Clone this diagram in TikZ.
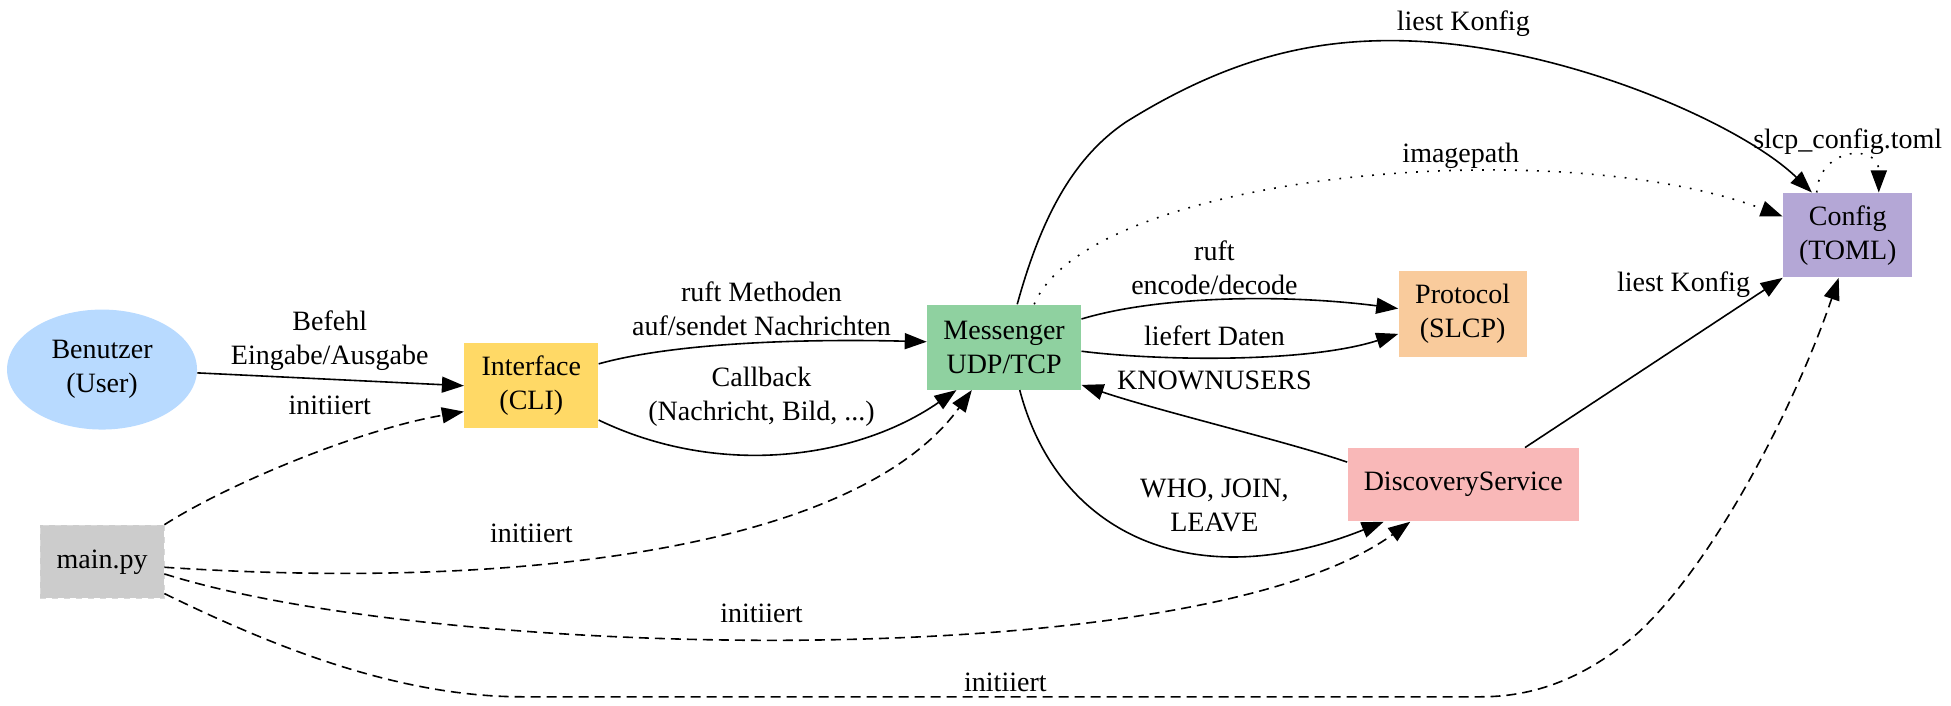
\documentclass[tikz,border=0pt]{standalone}
\usepackage{fontspec}
\setmainfont{Liberation Serif}
\usepackage{xcolor}
\usetikzlibrary{arrows.meta,shapes.geometric,positioning}

\definecolor{userblue}{RGB}{184,218,255}
\definecolor{cliyellow}{RGB}{255,217,102}
\definecolor{msggreen}{RGB}{143,209,160}
\definecolor{protoorange}{RGB}{249,203,156}
\definecolor{discpink}{RGB}{249,184,184}
\definecolor{cfgpurple}{RGB}{180,167,214}
\definecolor{maingray}{RGB}{204,204,204}

\begin{document}
\begin{tikzpicture}[x=0.6222pt, y=-0.6222pt,
  font=\fontsize{14}{17}\selectfont,
  box/.style={rectangle, inner sep=0pt, align=center},
  lbl/.style={inner sep=0pt, align=center},
  edge/.style={line width=0.8pt, -{Triangle[length=11pt,width=8pt]}},
  initedge/.style={edge, dash pattern=on 5pt off 3pt},
  dotedge/.style={edge, dash pattern=on 0.9pt off 4.6pt}]
  \useasboundingbox (0,0) rectangle (1568,567);

  % Nodes
  \node[ellipse, fill=userblue, inner sep=0pt, align=center, minimum width=95pt, minimum height=60pt] (user) at (82,297) {Benutzer\\(User)};
  \node[box, fill=cliyellow, minimum width=67pt, minimum height=42.5pt] (iface) at (427,310) {Interface\\(CLI)};
  \node[box, fill=maingray, draw=gray!30, dashed, minimum width=62pt, minimum height=36.7pt] (main) at (82,451.5) {main.py};
  \node[box, fill=msggreen, minimum width=77pt, minimum height=42.5pt] (msg) at (807,279) {Messenger\\UDP/TCP};
  \node[box, fill=protoorange, minimum width=64pt, minimum height=43pt] (proto) at (1175.5,252.5) {Protocol\\(SLCP)};
  \node[box, fill=discpink, minimum width=115.7pt, minimum height=36.7pt] (disc) at (1176,389.5) {DiscoveryService};
  \node[box, fill=cfgpurple, minimum width=64.7pt, minimum height=42.3pt] (config) at (1485,189) {Config\\(TOML)};

  % User and CLI
  \draw[edge] (user.-2) -- (iface.west);
  \node[lbl] (lcmd) at (265,274) {Befehl\\Eingabe/Ausgabe};
  \draw[edge] (iface.18.4) .. controls (540,276) and (640,272) .. (msg.176);
  \node[lbl] (lcall) at (612,248) {ruft Methoden\\auf/sendet Nachrichten};
  \draw[edge] (iface.-27.4) .. controls (580,385) and (690,368) .. (msg.222.6);
  \node[lbl] (lback) at (612,319) {Callback\\(Nachricht, Bild, ...)};

  % main.py starts everything
  \draw[initedge] (main.north east) .. controls (185,388) and (290,345) .. (iface.201.3);
  \node[lbl] (linit1) at (265,326) {initiiert};
  \draw[initedge] (main.-5) .. controls (420,475) and (690,440) .. (msg.233.7);
  \node[lbl] (linit2) at (427,429) {initiiert};
  \draw[initedge] (main.-11) .. controls (350,530) and (960,545) .. (disc.215);
  \node[lbl] (linit3) at (612,493) {initiiert};
  \draw[initedge] (main.-27) .. controls (220,520) and (320,560) .. (420,560) -- (1190,560)
    .. controls (1240,560) and (1280,540) .. (1316,509)
    .. controls (1380,450) and (1445,320) .. (config.258);
  \node[lbl] (linit4) at (808,548) {initiiert};

  % Messenger and Protocol
  \draw[edge] (msg.20.4) .. controls (930,238) and (1030,236) .. (proto.175);
  \node[lbl] (lenc) at (976,215) {ruft\\encode/decode};
  \draw[edge] (msg.-3.7) .. controls (930,290) and (1050,292) .. (proto.197.8);
  \node[lbl] (ldata) at (976,270) {liefert Daten};

  % Messenger and Discovery
  \draw[edge] (disc.169.5) .. controls (1035,355) and (930,330) .. (msg.-26.6);
  \node[lbl] (lknown) at (976,306) {KNOWNUSERS};
  \draw[edge] (msg.-70.6) .. controls (850,430) and (960,480) .. (disc.205.8);
  \node[lbl] (lwho) at (976,406) {WHO, JOIN,\\LEAVE};

  % Config
  \draw[edge] (msg.73.6) .. controls (838,170) and (865,125) .. (905,98)
    .. controls (990,45) and (1060,30) .. (1135,33)
    .. controls (1260,38) and (1400,100) .. (config.130.5);
  \node[lbl] (lread1) at (1176,19) {liest Konfig};
  \draw[dotedge] (msg.55.9) .. controls (875,140) and (1250,105) .. (config.164.9);
  \node[lbl] (limg) at (1174,125) {imagepath};
  \draw[edge] (disc.31.6) -- (config.south west);
  \node[lbl] (lread2) at (1353,229) {liest Konfig};
  \draw[dotedge] (config.126.3) .. controls (1462,118) and (1510,115) .. (config.54.8);
  \node[lbl] (ltoml) at (1485,114) {slcp\_config.toml};
\end{tikzpicture}
\end{document}
